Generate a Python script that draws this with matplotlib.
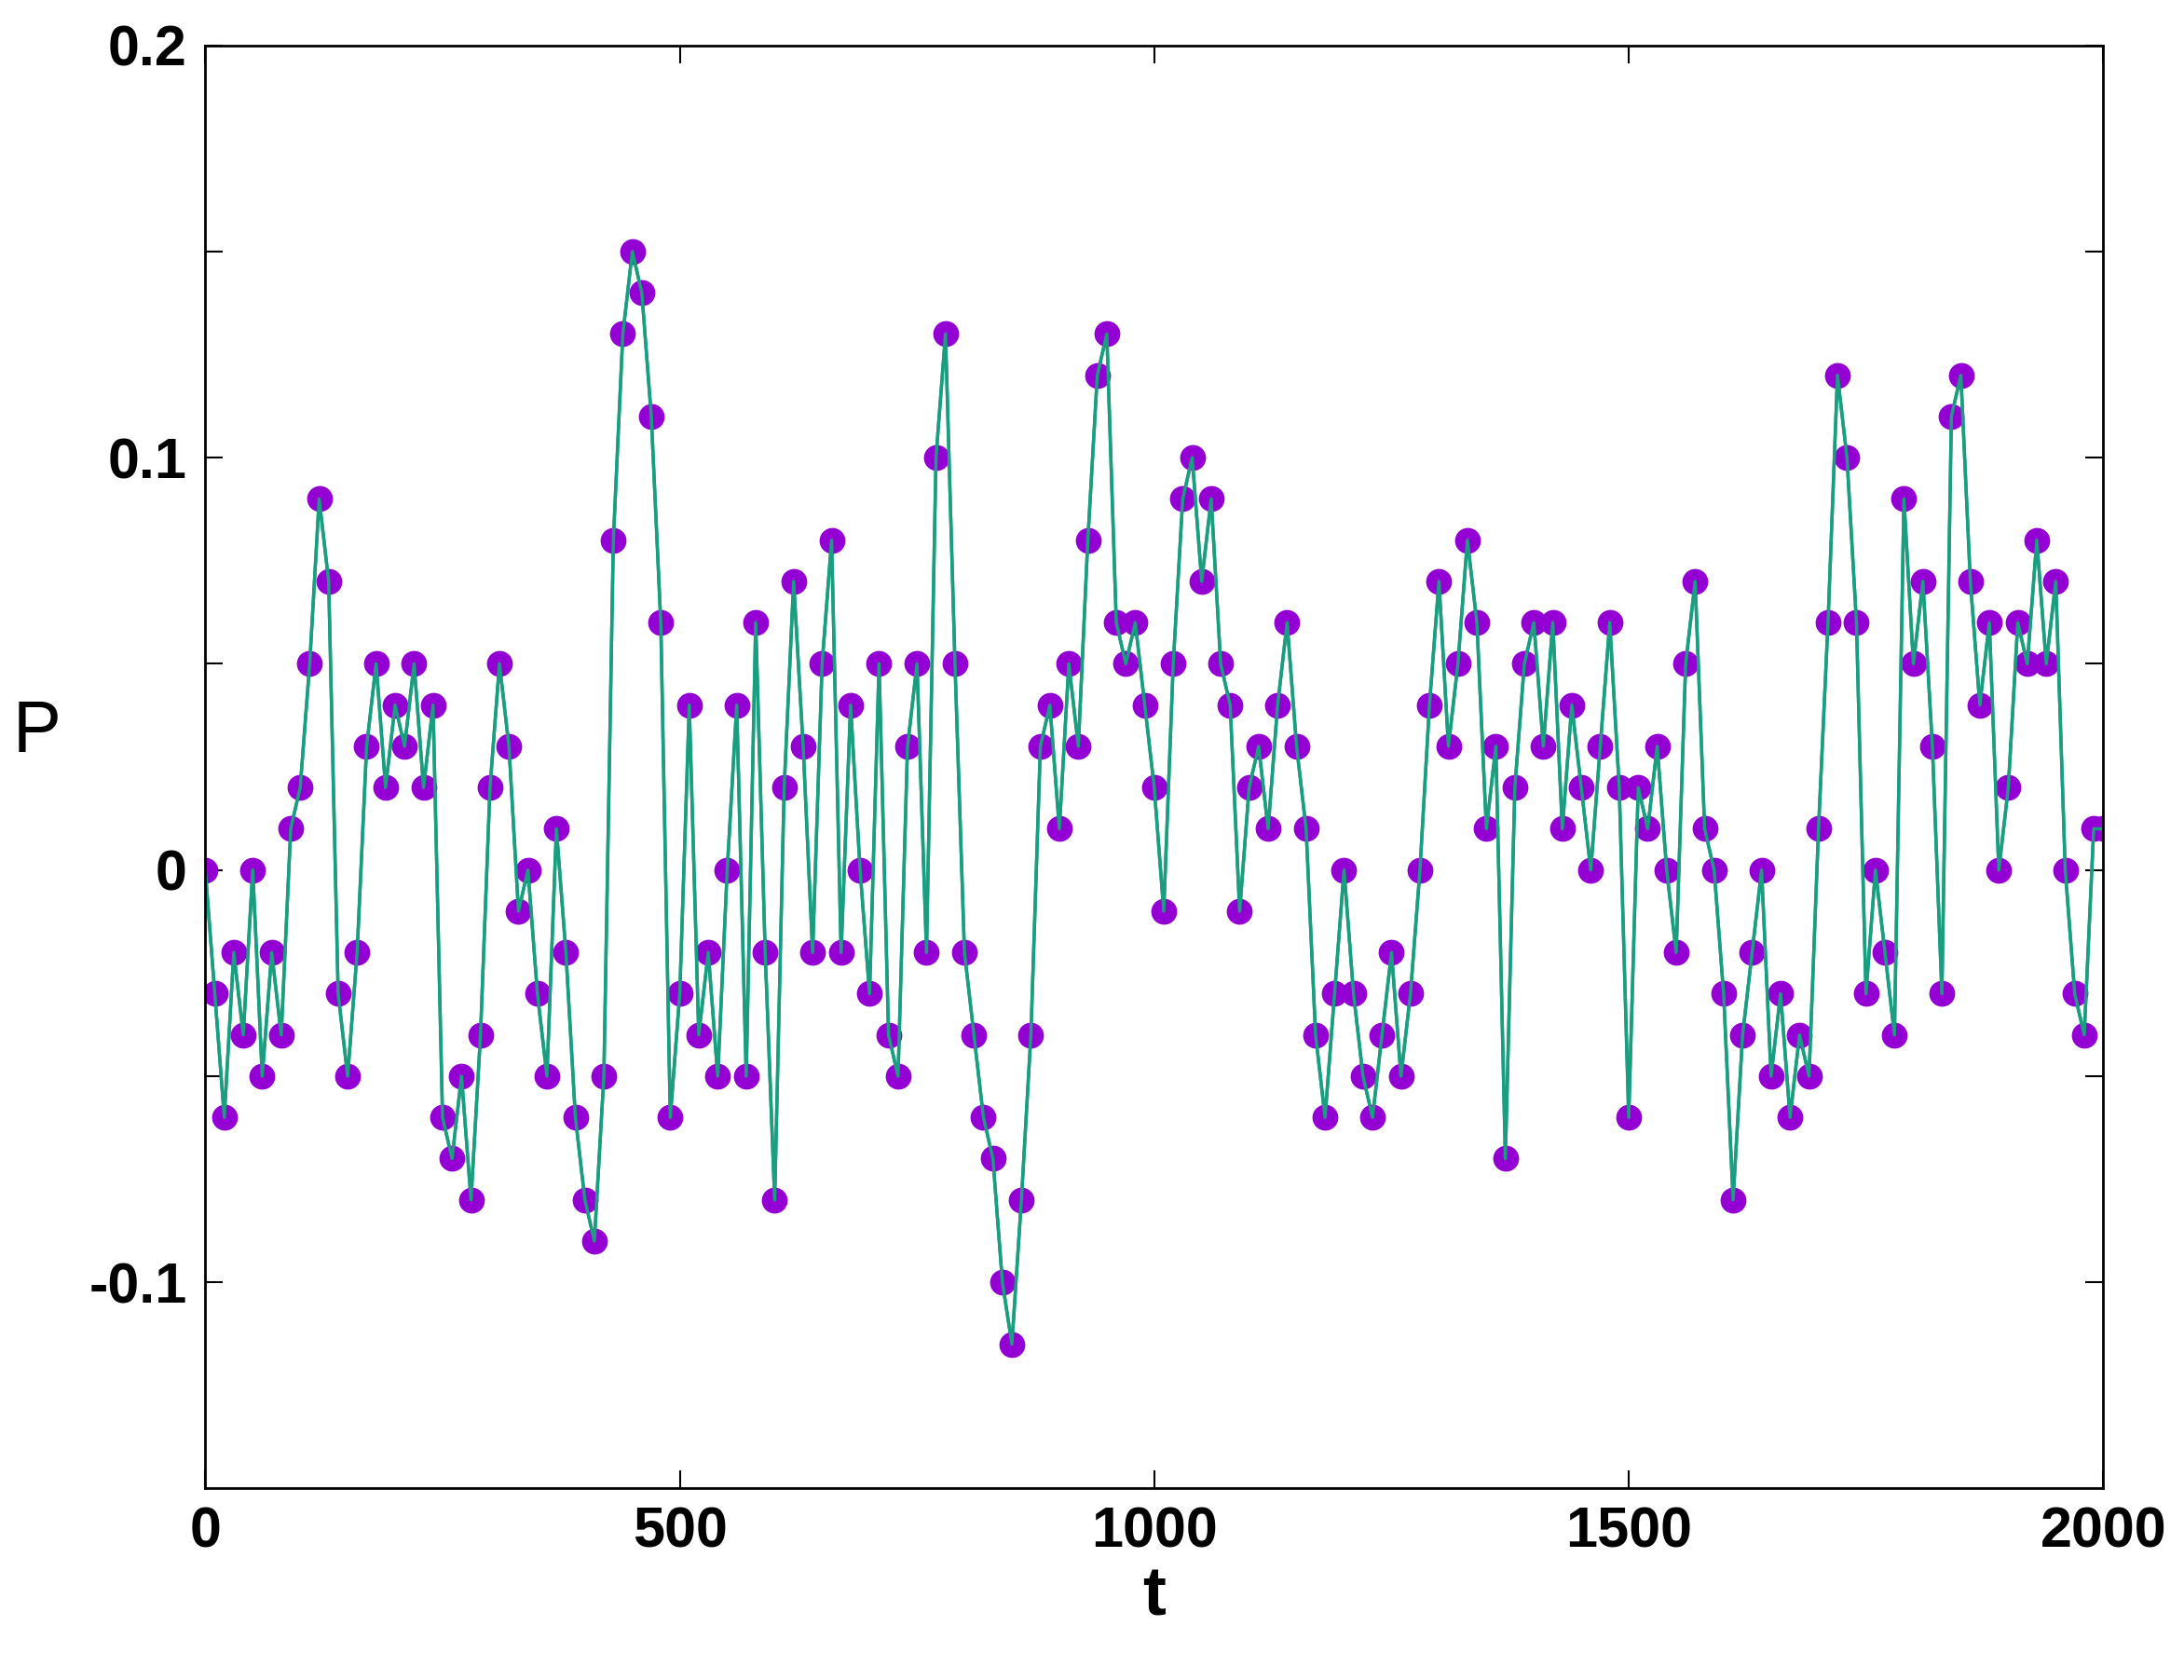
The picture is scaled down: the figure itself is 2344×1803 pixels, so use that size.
import numpy as np
import matplotlib.pyplot as plt

plt.rcParams['font.family'] = ['Liberation Sans', 'DejaVu Sans']

t = np.arange(0, 2001, 10)
P = [
    0, -0.03, -0.06, -0.02, -0.04, 0, -0.05, -0.02, -0.04, 0.01,
    0.02, 0.05, 0.09, 0.07, -0.03, -0.05, -0.02, 0.03, 0.05, 0.02,
    0.04, 0.03, 0.05, 0.02, 0.04, -0.06, -0.07, -0.05, -0.08, -0.04,
    0.02, 0.05, 0.03, -0.01, 0.0, -0.03, -0.05, 0.01, -0.02, -0.06,
    -0.08, -0.09, -0.05, 0.08, 0.13, 0.15, 0.14, 0.11, 0.06, -0.06,
    -0.03, 0.04, -0.04, -0.02, -0.05, 0.0, 0.04, -0.05, 0.06, -0.02,
    -0.08, 0.02, 0.07, 0.03, -0.02, 0.05, 0.08, -0.02, 0.04, 0.0,
    -0.03, 0.05, -0.04, -0.05, 0.03, 0.05, -0.02, 0.1, 0.13, 0.05,
    -0.02, -0.04, -0.06, -0.07, -0.1, -0.115, -0.08, -0.04, 0.03, 0.04,
    0.01, 0.05, 0.03, 0.08, 0.12, 0.13, 0.06, 0.05, 0.06, 0.04,
    0.02, -0.01, 0.05, 0.09, 0.1, 0.07, 0.09, 0.05, 0.04, -0.01,
    0.02, 0.03, 0.01, 0.04, 0.06, 0.03, 0.01, -0.04, -0.06, -0.03,
    0.0, -0.03, -0.05, -0.06, -0.04, -0.02, -0.05, -0.03, 0.0, 0.04,
    0.07, 0.03, 0.05, 0.08, 0.06, 0.01, 0.03, -0.07, 0.02, 0.05,
    0.06, 0.03, 0.06, 0.01, 0.04, 0.02, 0.0, 0.03, 0.06, 0.02,
    -0.06, 0.02, 0.01, 0.03, 0.0, -0.02, 0.05, 0.07, 0.01, 0.0,
    -0.03, -0.08, -0.04, -0.02, 0.0, -0.05, -0.03, -0.06, -0.04, -0.05,
    0.01, 0.06, 0.12, 0.1, 0.06, -0.03, 0.0, -0.02, -0.04, 0.09,
    0.05, 0.07, 0.03, -0.03, 0.11, 0.12, 0.07, 0.04, 0.06, 0.0,
    0.02, 0.06, 0.05, 0.08, 0.05, 0.07, 0.0, -0.03, -0.04, 0.01,
    0.01,
]

fig = plt.figure(figsize=(23.44, 18.03), dpi=100)
ax = fig.add_axes([0.094, 0.114, 0.869, 0.859])
ax.plot(t, P, color="#1a9e80", lw=2.5, marker="o", ms=20,
        mfc="#9400D3", mec="#9400D3", markeredgewidth=0)
# line on top of markers as in the reference
ax.plot(t, P, color="#1a9e80", lw=2.5)

ax.set_xlim(0, 2000)
ax.set_ylim(-0.15, 0.2)
ax.set_xticks([0, 500, 1000, 1500, 2000])
ax.set_yticks([-0.1, 0, 0.1, 0.2])
ax.set_yticklabels(["-0.1", "0", "0.1", "0.2"])
ax.set_yticks([-0.05, 0.05, 0.15], minor=True)
ax.tick_params(which="both", direction="in", top=True, right=True,
               length=14, width=1.5, labelsize=44, pad=14)
for lab in ax.get_xticklabels() + ax.get_yticklabels():
    lab.set_fontweight("bold")
for s in ax.spines.values():
    s.set_linewidth(2)

ax.set_xlabel("t", fontsize=54, fontweight="bold", labelpad=4)
ax.set_ylabel("P", fontsize=56, rotation=0, labelpad=40)

fig.savefig("out.png", dpi=100)
